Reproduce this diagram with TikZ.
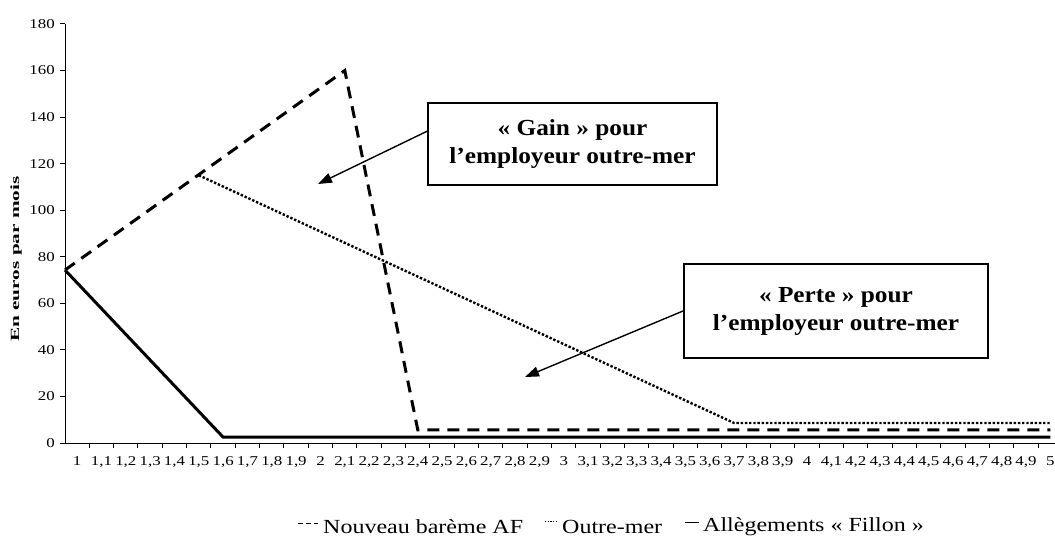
\documentclass[tikz,border=0pt]{standalone}
\usepackage{fontspec}
\setmainfont{Liberation Serif}
\newfontfamily\tickfont[FakeStretch=1.25]{Liberation Serif}
\newfontfamily\ytitlefont[FakeStretch=1.7]{Liberation Serif}
\newfontfamily\legendfont[FakeStretch=1.2]{Liberation Serif}
\newfontfamily\boxfont[FakeStretch=1.1]{Liberation Serif}
\usetikzlibrary{arrows.meta}
\usetikzlibrary{positioning}
\usetikzlibrary{calc}
\tikzset{axis line/.style={draw,line width=1pt}}
\tikzset{curve/.style={draw,line width=3pt,line join=miter}}
\tikzset{note box/.style={draw,
                          line width=2pt,
                          align=center,
                          minimum width=289pt,
                          inner sep=0pt,
                          font=\boxfont\fontsize{23}{28}\selectfont\bfseries}}
\tikzset{note arrow/.style={draw,
                            line width=1.4pt,
                            -{Triangle[length=14pt,width=10pt]}}}
\newcommand{\CATW}{24.33}
\newcommand{\VALH}{2.328}

\begin{document}
\begin{tikzpicture}
      [
      x=1pt,y=-1pt,
      tick label/.style={inner sep=0pt,font=\tickfont\fontsize{13.5}{15}\selectfont},
      legend text/.style={anchor=west,inner sep=0pt,font=\legendfont\fontsize{20}{22}\selectfont},
      legend mark/.style={draw,line width=0.8pt},
      ]
      \useasboundingbox (0,0) rectangle (1055,541);

      % axes
      \draw [axis line] (65,24) -- (65,443) -- (1055,443);
      \foreach \v in {0,20,...,180}
      {
      \draw [axis line] (60,443-\v*\VALH) -- (65,443-\v*\VALH);
      \node [tick label,anchor=east] (Y\v) at (55,443-\v*\VALH) {\v};
      }
      \foreach \k in {0,...,40}
      {
      \pgfmathtruncatemacro{\ip}{1+floor(\k/10)}
      \pgfmathtruncatemacro{\dp}{mod(\k,10)}
      \draw [axis line] (65+\k*\CATW+\CATW,443) -- ++(0,5);
      \node [tick label] (X\k) at (65+\k*\CATW+0.5*\CATW,461)
      {\ifnum\dp=0 \ip\else\ip,\dp\fi};
      }
      \node [rotate=90,inner sep=0pt,font=\ytitlefont\fontsize{12.5}{14}\selectfont\bfseries]
      (ytitle) at (16,259) {En euros par mois};

      % curves
      \begin{scope}[shift={(65,443)},x=\CATW pt,y=\VALH pt]
      \draw [curve,dash pattern=on 12pt off 8pt] (0,74.3) -- (11.5,160) -- (14.5,5.6) -- (40.5,5.6);
      \draw [curve,line width=2.4pt,dash pattern=on 2.4pt off 1.8pt] (5.5,115) -- (27.5,8.6) -- (40.5,8.6);
      \draw [curve] (0,74.3) -- (6.5,2.5) -- (40.5,2.5);
      \end{scope}

      % boxes
      \node [note box,minimum height=82pt] (gain) at (572.5,144)
      {« Gain » pour\\l’employeur outre-mer};
      \node [note box,minimum width=304pt,minimum height=94pt] (perte) at (836,311)
      {« Perte » pour\\l’employeur outre-mer};

      % arrows
      \coordinate (gaintip) at (318,184);
      \coordinate (pertetip) at (525,377);
      \draw [note arrow] (gain.175) -- (gaintip);
      \draw [note arrow] (perte.west) -- (pertetip);

      % legend
      \draw [legend mark,dash pattern=on 5pt off 3pt] (298,523) coordinate (L1a) -- (318,523) coordinate (L1b);
      \node [legend text] (L1) at (323,527) {Nouveau barème AF};
      \draw [legend mark,dash pattern=on 1.2pt off 1.5pt] (545,521) coordinate (L2a) -- (558,521) coordinate (L2b);
      \node [legend text] (L2) at (562,527) {Outre-mer};
      \draw [legend mark] (685,522) coordinate (L3a) -- (699,522) coordinate (L3b);
      \node [legend text] (L3) at (703,527) {Allègements « Fillon »};

    \end{tikzpicture}
\end{document}
